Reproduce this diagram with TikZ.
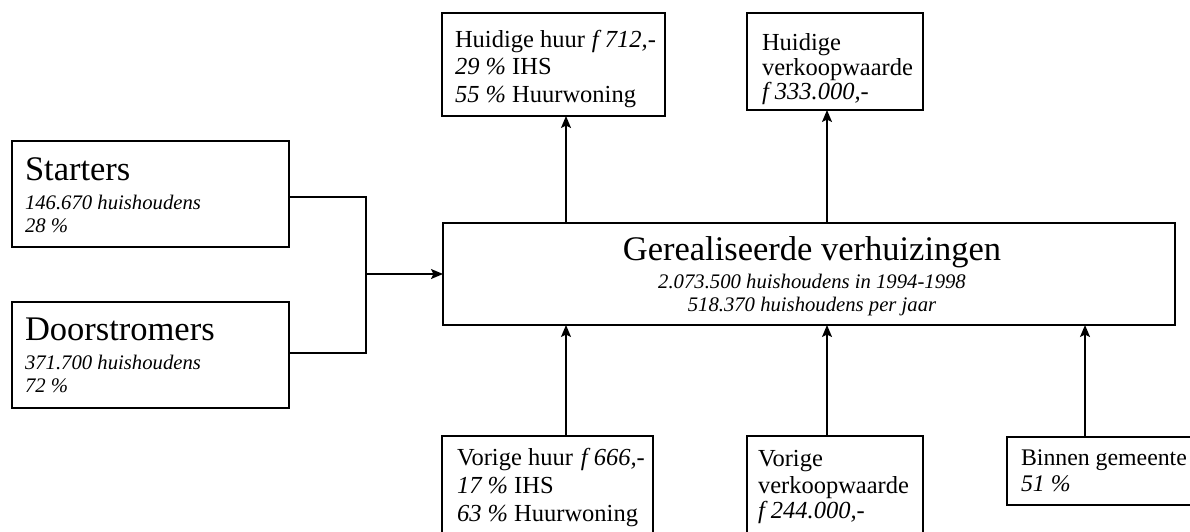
\documentclass[tikz,border=0pt]{standalone}
\usepackage{fontspec}
\setmainfont{Liberation Serif}
\usetikzlibrary{arrows.meta}

% text sizes
\newcommand\bigtxt{\fontsize{34.5}{40}\selectfont}
\newcommand\boxtxt{\fontsize{24.5}{28}\selectfont}
\newcommand\subtxt{\fontsize{20.7}{23}\selectfont\itshape}
% stacked lines: the baseline of the stack is that of its first line
\newcommand\stack[1]{\vtop{\lineskiplimit=-\maxdimen\lineskip=0pt #1}}
\newcommand\tline[2]{\baselineskip=#1\relax\hbox{#2}}
\newcommand\ctrline[2]{\baselineskip=#1\relax\hbox to 440pt{\hss#2\hss}}

\tikzset{
  box/.style={draw, line width=1.6pt, inner sep=0pt, outer sep=0pt,
              anchor=north west, rectangle},
  txt/.style={anchor=base west, inner sep=0pt, outer sep=0pt},
  conn/.style={line width=1.5pt},
  arr/.style={conn, -{Stealth[length=12pt, width=10pt, inset=2.5pt]}}
}

\begin{document}
\begin{tikzpicture}[x=1pt, y=-1pt]
\useasboundingbox (0,0) rectangle (1190,531);
\clip (0,0) rectangle (1190,531);
\fill[white] (0,0) rectangle (1190,531);

% boxes
\node[box, minimum width=223pt, minimum height=103pt] (hh) at (442,13) {};
\node[box, minimum width=176pt, minimum height=97pt]  (hv) at (747,13) {};
\node[box, minimum width=277pt, minimum height=106pt] (st) at (12,141) {};
\node[box, minimum width=277pt, minimum height=106pt] (ds) at (12,302) {};
\node[box, minimum width=732pt, minimum height=102pt] (main) at (443,223) {};
\node[box, minimum width=211pt, minimum height=110pt] (vh) at (442,436) {};
\node[box, minimum width=176pt, minimum height=110pt] (vv) at (747,436) {};
\node[box, minimum width=220pt, minimum height=68pt]  (bg) at (1007,437) {};

% texts
\node[txt] (stT) at (25,180) {\stack{%
  \tline{0pt}{\bigtxt Starters}%
  \tline{29pt}{\subtxt 146.670 huishoudens}%
  \tline{23pt}{\subtxt 28 \%}}};
\node[txt] (dsT) at (25,340) {\stack{%
  \tline{0pt}{\bigtxt Doorstromers}%
  \tline{29pt}{\subtxt 371.700 huishoudens}%
  \tline{23pt}{\subtxt 72 \%}}};
\node[anchor=base, inner sep=0pt] (mainT) at (812,260) {\stack{%
  \ctrline{0pt}{\bigtxt Gerealiseerde verhuizingen}%
  \ctrline{28pt}{\subtxt 2.073.500 huishoudens in 1994-1998}%
  \ctrline{23pt}{\subtxt 518.370 huishoudens per jaar}}};
\node[txt] (hhT) at (455,47) {\boxtxt\stack{%
  \tline{0pt}{Huidige huur\hspace{7pt}\textit{f 712,-}}%
  \tline{27.5pt}{\textit{29 \%} IHS}%
  \tline{27.5pt}{\textit{55 \%} Huurwoning}}};
\node[txt] (hvT) at (762,50) {\boxtxt\stack{%
  \tline{0pt}{Huidige}%
  \tline{25pt}{verkoopwaarde}%
  \tline{24pt}{\textit{f 333.000,-}}}};
\node[txt] (vhT) at (457,465) {\boxtxt\stack{%
  \tline{0pt}{Vorige huur\hspace{8pt}\textit{f 666,-}}%
  \tline{28pt}{\textit{17 \%} IHS}%
  \tline{28pt}{\textit{63 \%} Huurwoning}}};
\node[txt] (vvT) at (758,466) {\boxtxt\stack{%
  \tline{0pt}{Vorige}%
  \tline{27pt}{verkoopwaarde}%
  \tline{25pt}{\textit{f 244.000,-}}}};
\node[txt] (bgT) at (1021,465) {\fontsize{23.8}{28}\selectfont\stack{%
  \tline{0pt}{Binnen gemeente}%
  \tline{26pt}{\textit{51 \%}}}};

% connector columns
\coordinate (xa) at (566,0);
\coordinate (xb) at (827,0);
\coordinate (xc) at (1085,0);
\coordinate (jn) at (366,274);

% starters and doorstromers merge into the main box
\draw[conn] ([yshift=-3pt]st.east) -| (jn);
\draw[conn] ([yshift=2pt]ds.east) -| (jn);
\draw[arr] (jn) -- (main.west |- jn);

% upward arrows from the main box
\draw[arr] (main.north -| xa) -- (hh.south -| xa);
\draw[arr] (main.north -| xb) -- (hv.south -| xb);

% upward arrows into the main box
\draw[arr] (vh.north -| xa) -- (main.south -| xa);
\draw[arr] (vv.north -| xb) -- (main.south -| xb);
\draw[arr] (bg.north -| xc) -- (main.south -| xc);
\end{tikzpicture}
\end{document}
